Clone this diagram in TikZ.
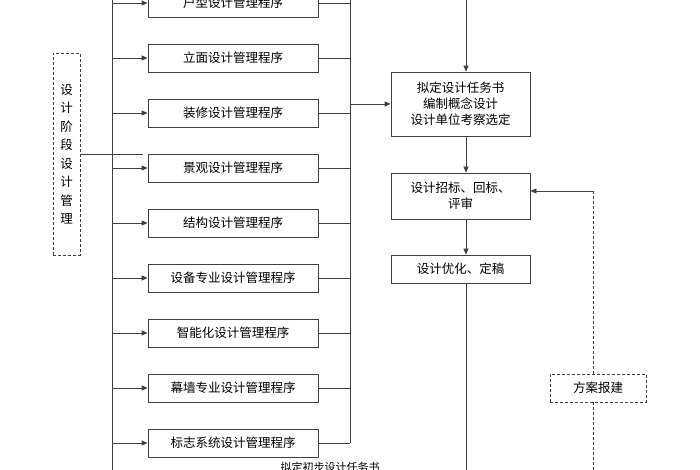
\documentclass[tikz,border=0pt]{standalone}
\usepackage{fontspec}
\setmainfont{Noto Sans CJK SC}
\usetikzlibrary{arrows.meta}
\begin{document}
\begin{tikzpicture}[x=1pt,y=-1pt,
  bx/.style={draw=black!75,line width=0.8pt,minimum width=170pt,minimum height=28pt,inner sep=0pt,font=\fontsize{12.5}{15}\selectfont},
  rb/.style={draw=black!75,line width=0.8pt,minimum width=139pt,inner sep=2pt,align=center,font=\fontsize{12.5}{16}\selectfont},
  ln/.style={draw=black!75,line width=0.8pt},
  ar/.style={ln,-{Triangle[length=6pt,width=5pt]}},
  dsh/.style={draw=black!75,line width=0.8pt,dashed,dash pattern=on 3pt off 2pt}]
\useasboundingbox (0,0) rectangle (700,470);
\clip (0,0) rectangle (700,470);
\foreach \t [count=\i from 0] in {户型设计管理程序,立面设计管理程序,装修设计管理程序,景观设计管理程序,结构设计管理程序,设备专业设计管理程序,智能化设计管理程序,幕墙专业设计管理程序,标志系统设计管理程序}{
  \node[bx] (b\i) at (233,{3+55*\i}) {\t};
  \coordinate (l\i) at (112,{3+55*\i});
  \coordinate (r\i) at (350,{3+55*\i});
  \draw[ar] (l\i) -- (b\i.west);
  \draw[ln] (b\i.east) -- (r\i);
}
\coordinate (ltop) at (112,-5);
\coordinate (lbot) at (112,475);
\draw[ln] (ltop) -- (lbot);
\coordinate (rtop) at (350,-5);
\draw[ln] (rtop) -- (r8);
\node[draw=black!75,line width=0.8pt,dash pattern=on 3pt off 2pt,minimum width=27pt,minimum height=202pt,inner sep=0pt,align=center,font=\fontsize{12.5}{18.5}\selectfont] (dm) at (66.5,154) {设\\计\\阶\\段\\设\\计\\管\\理};
\coordinate (dme) at (143,154);
\draw[ln] (dm.east |- dme) -- (dme);
\node[rb,minimum height=64pt] (A) at (460.5,104) {拟定设计任务书\\编制概念设计\\设计单位考察选定};
\node[rb,minimum height=46pt] (B) at (460.5,196) {设计招标、回标、\\评审};
\node[rb,minimum height=28pt] (C) at (460.5,269) {设计优化、定稿};
\coordinate (atop) at (466,-5);
\draw[ar] (atop) -- (A.north -| atop);
\draw[ar] (r2 |- A.west) -- (A.west);
\draw[ar] (A.south -| atop) -- (B.north -| atop);
\draw[ar] (B.south -| atop) -- (C.north -| atop);
\coordinate (cbot) at (466,475);
\draw[ln] (C.south -| cbot) -- (cbot);
\node[draw=black!75,line width=0.8pt,dash pattern=on 3pt off 2pt,minimum width=96pt,minimum height=28pt,inner sep=0pt,font=\fontsize{12.5}{15}\selectfont] (D) at (598,388) {方案报建};
\coordinate (dtop) at (593,191);
\coordinate (dbot) at (593,475);
\draw[dsh] (D.north -| dtop) -- (dtop) -- (B.east |- dtop);
\draw[dsh,-{Triangle[length=6pt,width=5pt]}] (dtop) -- (B.east |- dtop);
\draw[dsh] (D.south -| dbot) -- (dbot);
\node[font=\fontsize{11}{13}\selectfont,anchor=north] (E) at (330,459) {拟定初步设计任务书};
\end{tikzpicture}
\end{document}
